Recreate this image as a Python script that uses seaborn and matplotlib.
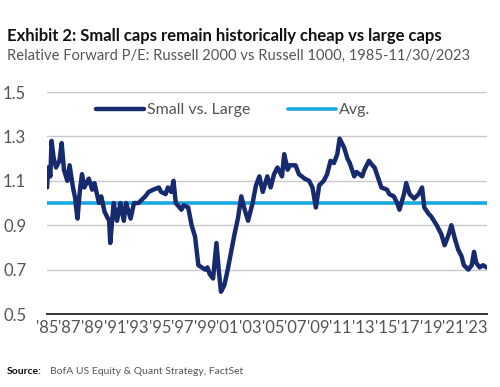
import matplotlib
matplotlib.use("Agg")
import matplotlib.pyplot as plt
import seaborn as sns
import pandas as pd

years = [1985.0, 1985.1, 1985.3, 1985.4, 1985.6, 1985.8, 1986.1, 1986.3, 1986.5, 1986.8,
         1987.0, 1987.3, 1987.5, 1987.6, 1987.7, 1987.9, 1988.1, 1988.3, 1988.7, 1989.0,
         1989.2, 1989.6, 1989.8, 1990.1, 1990.5, 1990.6, 1990.9, 1991.2, 1991.5, 1991.8,
         1992.0, 1992.4, 1992.7, 1993.1, 1993.7, 1994.0, 1994.4, 1994.9, 1995.1, 1995.5,
         1995.7, 1996.0, 1996.2, 1996.4, 1996.9, 1997.1, 1997.5, 1997.8, 1998.1, 1998.4,
         1998.7, 1999.0, 1999.2, 1999.4, 1999.7, 2000.0, 2000.2, 2000.4, 2000.7, 2001.0,
         2001.3, 2001.6, 2001.9, 2002.2, 2002.5, 2002.8, 2003.2, 2003.5, 2003.8, 2004.1,
         2004.5, 2004.8, 2005.1, 2005.4, 2005.8, 2006.0, 2006.3, 2006.5, 2007.0, 2007.3,
         2007.8, 2008.2, 2008.5, 2008.8, 2009.1, 2009.5, 2009.8, 2010.1, 2010.4, 2010.7,
         2010.9, 2011.1, 2011.3, 2011.6, 2011.8, 2012.2, 2012.4, 2012.9, 2013.1, 2013.5,
         2013.8, 2014.0, 2014.4, 2014.6, 2015.1, 2015.3, 2015.7, 2016.0, 2016.2, 2016.6,
         2016.8, 2017.1, 2017.5, 2017.9, 2018.2, 2018.4, 2018.8, 2019.0, 2019.5, 2019.9,
         2020.2, 2020.5, 2020.8, 2021.1, 2021.4, 2021.7, 2021.9, 2022.3, 2022.6, 2022.8,
         2023.0, 2023.3, 2023.6, 2023.9]
small_vs_large = [1.07, 1.16, 1.12, 1.28, 1.20, 1.16, 1.19, 1.27, 1.15, 1.10,
                  1.17, 1.07, 1.02, 0.97, 0.93, 1.05, 1.13, 1.07, 1.11, 1.06,
                  1.09, 1.00, 1.03, 0.96, 0.92, 0.82, 1.00, 0.92, 1.00, 0.92,
                  1.00, 0.93, 1.00, 1.00, 1.03, 1.05, 1.06, 1.07, 1.05, 1.04,
                  1.07, 1.05, 1.10, 1.00, 0.97, 0.99, 0.98, 0.90, 0.85, 0.72,
                  0.71, 0.70, 0.71, 0.68, 0.66, 0.82, 0.70, 0.60, 0.63, 0.70,
                  0.78, 0.86, 0.93, 1.03, 0.97, 0.92, 1.00, 1.08, 1.12, 1.05,
                  1.12, 1.07, 1.13, 1.16, 1.12, 1.22, 1.15, 1.17, 1.17, 1.13,
                  1.11, 1.10, 1.07, 0.98, 1.08, 1.10, 1.13, 1.19, 1.18, 1.22,
                  1.29, 1.27, 1.25, 1.20, 1.18, 1.12, 1.14, 1.12, 1.15, 1.19,
                  1.17, 1.16, 1.10, 1.07, 1.06, 1.04, 1.03, 1.00, 0.97, 1.04,
                  1.09, 1.04, 1.02, 1.04, 1.07, 0.98, 0.95, 0.94, 0.90, 0.86,
                  0.81, 0.85, 0.90, 0.84, 0.79, 0.76, 0.72, 0.70, 0.72, 0.78,
                  0.73, 0.71, 0.72, 0.71]
avg_value = 1.0
xtick_years = list(range(1985, 2024, 2))
xtick_labels = ["'" + str(y)[2:] for y in xtick_years]
ytick_values = [0.5, 0.7, 0.9, 1.1, 1.3, 1.5]

sns.set_style("white")
plt.rcParams['font.family'] = ['Lato', 'DejaVu Sans']

df = pd.DataFrame({"year": years, "value": small_vs_large, "series": "Small vs. Large"})
df_avg = pd.DataFrame({"year": [years[0], years[-1] + 0.05], "value": [avg_value, avg_value], "series": "Avg."})

fig = plt.figure(figsize=(5, 3.87), dpi=100)
ax = fig.add_axes([0.094, 0.1886, 0.88, 0.5736])

for v in ytick_values[1:]:
    ax.axhline(v, color="#c8c8c8", lw=1.0, zorder=0)

sns.lineplot(data=df_avg, x="year", y="value", ax=ax, color="#1aa8e0", lw=2.6, label="Avg.", zorder=2)
sns.lineplot(data=df, x="year", y="value", ax=ax, color="#172a6e", lw=3.2, label="Small vs. Large", zorder=3)

ax.set_xlim(1985, 2023.95)
ax.set_ylim(0.5, 1.5)
ax.set_xticks(xtick_years)
ax.set_xticklabels(xtick_labels)
ax.set_yticks(ytick_values)
ax.set_yticklabels([f"{v:.1f}" for v in ytick_values])
ax.tick_params(axis="both", length=0, labelsize=12, colors="#555555")
ax.tick_params(axis="y", pad=15)
ax.tick_params(axis="x", pad=4)
ax.set_xlabel("")
ax.set_ylabel("")
for s in ["left", "right", "top"]:
    ax.spines[s].set_visible(False)
ax.spines["bottom"].set_color("#333333")
ax.spines["bottom"].set_linewidth(1.4)

handles, labels = ax.get_legend_handles_labels()
order = [labels.index("Small vs. Large"), labels.index("Avg.")]
leg = ax.legend([handles[i] for i in order], [labels[i] for i in order],
                ncol=2, frameon=False, loc="center left",
                bbox_to_anchor=(82 / 500, 1 - 110 / 387), bbox_transform=fig.transFigure,
                handlelength=3.0, handletextpad=0.15, columnspacing=2.4,
                fontsize=11.5, labelcolor="#555555")

fig.text(0.014, 1 - 36 / 387, "Exhibit 2: Small caps remain historically cheap vs large caps",
         fontsize=12, fontweight="bold", color="#111111", va="center", ha="left")
fig.text(0.014, 1 - 56 / 387, "Relative Forward P/E: Russell 2000 vs Russell 1000, 1985-11/30/2023",
         fontsize=10.6, color="#555555", va="center", ha="left")
fig.text(0.014, 1 - 371 / 387, "Source:", fontsize=7.5, fontweight="bold", color="#111111",
         va="center", ha="left")
fig.text(0.1, 1 - 371 / 387, "BofA US Equity & Quant Strategy, FactSet", fontsize=7.5,
         color="#555555", va="center", ha="left")

fig.savefig("out.png", dpi=100)
